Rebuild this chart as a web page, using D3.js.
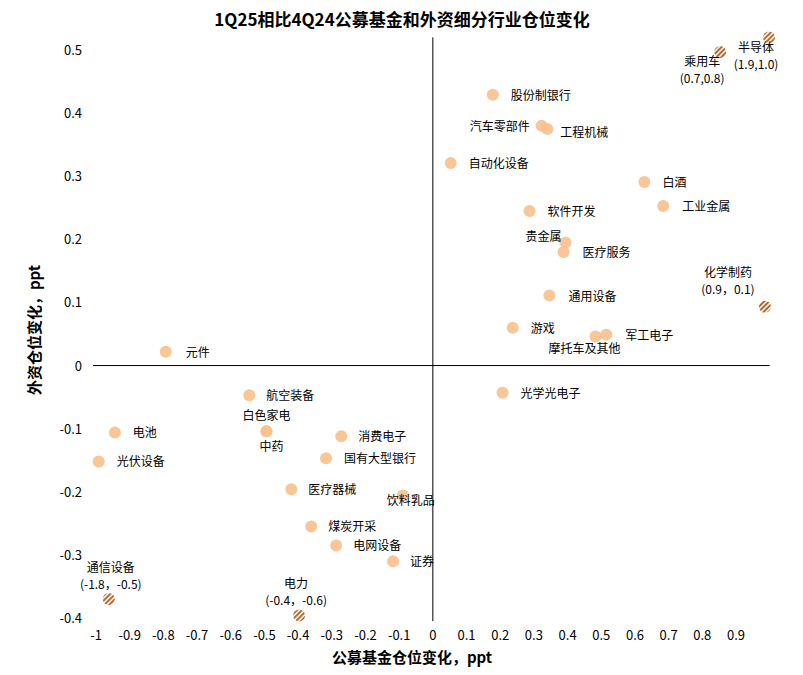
<!DOCTYPE html><html><head><meta charset="utf-8"><script src="https://cdn.jsdelivr.net/npm/d3@7"></script>
<style>body{margin:0;background:#fff}text{font-family:"Noto Sans CJK SC","Liberation Sans",sans-serif}</style></head><body><svg id="c" width="803" height="675"></svg><script>
const names=["元件","航空装备","白色家电","中药","电池","光伏设备","消费电子","国有大型银行","医疗器械","饮料乳品","煤炭开采","电网设备","证券","股份制银行","汽车零部件","工程机械","自动化设备","白酒","工业金属","软件开发","贵金属","医疗服务","通用设备","游戏","军工电子","摩托车及其他","光学光电子"];
const xs=[-0.793,-0.545,-0.494,-0.494,-0.944,-0.992,-0.272,-0.317,-0.42,-0.089,-0.361,-0.287,-0.118,0.178,0.323,0.34,0.053,0.628,0.684,0.287,0.394,0.388,0.346,0.237,0.515,0.483,0.207];
const ys=[0.022,-0.047,-0.104,-0.104,-0.106,-0.152,-0.112,-0.147,-0.196,-0.206,-0.255,-0.285,-0.31,0.429,0.38,0.375,0.321,0.291,0.253,0.245,0.195,0.18,0.111,0.06,0.049,0.046,-0.043];
const lab=[[20,5,"start"],[17,5,"start"],[0,-11,"middle"],[5,20,"middle"],[18,5,"start"],[18,5,"start"],[17,5,"start"],[18,5,"start"],[17,5,"start"],[8,9,"middle"],[17,5,"start"],[17,5,"start"],[17,5,"start"],[18,5,"start"],[-12,5,"end"],[13,8,"start"],[18,5,"start"],[18,5,"start"],[19,5,"start"],[18,5,"start"],[-4,-1,"end"],[19,5,"start"],[19,5,"start"],[18,5,"start"],[19,5,"start"],[-47,16,"start"],[18,5,"start"]];
const outNames=["乘用车","半导体","化学制药","通信设备","电力"];
const outLabels=["(0.7,0.8)","(1.9,1.0)","(0.9，0.1)","(-1.8，-0.5)","(-0.4，-0.6)"];
const outX=[0.853,0.998,0.986,-0.962,-0.397];
const outY=[0.497,0.52,0.093,-0.37,-0.396];
const outLab=[[-18,14],[-13,15],[-37,-30],[2,-27],[-3,-27]];
const xTicks=[-1,-0.9,-0.8,-0.7,-0.6,-0.5,-0.4,-0.3,-0.2,-0.1,0,0.1,0.2,0.3,0.4,0.5,0.6,0.7,0.8,0.9];
const yTicks=[-0.4,-0.3,-0.2,-0.1,0,0.1,0.2,0.3,0.4,0.5];
const svg=d3.select("#c");
const x=d3.scaleLinear().domain([-1,0.9]).range([96,736]);
const y=d3.scaleLinear().domain([-0.4,0.5]).range([618,50]);
const defs=svg.append("defs");
const p=defs.append("pattern").attr("id","st").attr("patternUnits","userSpaceOnUse").attr("width",3.5).attr("height",3.5).attr("patternTransform","rotate(-45)");
p.append("rect").attr("width",3.5).attr("height",3.5).attr("fill","#fff");
p.append("rect").attr("width",3.5).attr("height",2).attr("fill","#b0652a");
svg.append("text").attr("x",402).attr("y",26).attr("text-anchor","middle").attr("font-size",17).attr("font-weight","bold").text("1Q25相比4Q24公募基金和外资细分行业仓位变化");
svg.append("line").attr("x1",x(-1)-3).attr("x2",x(1.0)).attr("y1",y(0)).attr("y2",y(0)).attr("stroke","#000");
svg.append("line").attr("x1",x(0)).attr("x2",x(0)).attr("y1",y(0.52)).attr("y2",y(-0.405)).attr("stroke","#000");
svg.selectAll(".xt").data(xTicks).join("text").attr("x",d=>x(d)).attr("y",640).attr("text-anchor","middle").attr("font-size",13).attr("font-family","Liberation Sans").text(d=>d===0?"0":String(+d.toFixed(1)));
svg.selectAll(".yt").data(yTicks).join("text").attr("x",82).attr("y",d=>y(d)+5).attr("text-anchor","end").attr("font-size",13).attr("font-family","Liberation Sans").text(d=>d===0?"0":d.toFixed(1));
svg.append("text").attr("x",412).attr("y",663).attr("text-anchor","middle").attr("font-size",15).attr("font-weight","bold").text("公募基金仓位变化，ppt");
svg.append("text").attr("transform","translate(40,330) rotate(-90)").attr("text-anchor","middle").attr("font-size",15).attr("font-weight","bold").text("外资仓位变化，ppt");
svg.selectAll(".pt").data(names).join("circle").attr("cx",(d,i)=>x(xs[i])).attr("cy",(d,i)=>y(ys[i])).attr("r",6).attr("fill","#f8c08c").attr("opacity",0.9);
svg.selectAll(".pl").data(names).join("text").attr("x",(d,i)=>x(xs[i])+lab[i][0]).attr("y",(d,i)=>y(ys[i])+lab[i][1]).attr("text-anchor",(d,i)=>lab[i][2]).attr("font-size",12).text(d=>d);
svg.selectAll(".op").data(outNames).join("circle").attr("cx",(d,i)=>x(outX[i])).attr("cy",(d,i)=>y(outY[i])).attr("r",6).attr("fill","url(#st)");
const og=svg.selectAll(".ol").data(outNames).join("text").attr("text-anchor","middle").attr("font-size",12);
og.append("tspan").attr("x",(d,i)=>x(outX[i])+outLab[i][0]).attr("y",(d,i)=>y(outY[i])+outLab[i][1]).text(d=>d);
og.append("tspan").attr("x",(d,i)=>x(outX[i])+outLab[i][0]).attr("dy",17).text((d,i)=>outLabels[i]);
</script></body></html>
